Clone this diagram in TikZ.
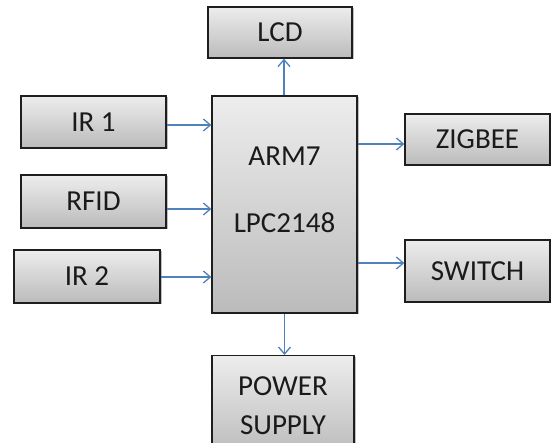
\documentclass[tikz,border=0pt]{standalone}
\usepackage{fontspec}
\setmainfont{Carlito}
\usepackage{tikz}
\usetikzlibrary{arrows.meta,shadows,calc}
\definecolor{blkTop}{HTML}{EDEDED}
\definecolor{blkBot}{HTML}{BBBBBB}
\definecolor{blkEdge}{HTML}{1E1E1E}
\definecolor{blkText}{HTML}{1A1A1A}
\definecolor{blkFlow}{HTML}{4F81BD}
\tikzset{
  blk/.style={draw=blkEdge,line width=1.3pt,top color=blkTop,bottom color=blkBot,
              text=blkText,align=center,inner sep=0pt,font=\fontsize{29}{38}\selectfont,
              drop shadow={shadow xshift=1.5pt,shadow yshift=-1.5pt,opacity=0.25,fill=black}},
  blkflow/.style={-{Straight Barb[length=7pt,width=12pt,line width=1.3pt]},draw=blkFlow,line width=1.4pt},
}
\begin{document}
\begin{tikzpicture}[x=1pt,y=-1pt]
  \useasboundingbox (0,0) rectangle (551,443);
  \clip (0,0) rectangle (551,443);
  \node[blk,minimum width=144pt,minimum height=51pt] (LCD) at (280,32.5) {LCD};
  \node[blk,minimum width=145pt,minimum height=52pt] (IR1) at (93.5,122) {IR 1};
  \node[blk,minimum width=145pt,minimum height=53pt] (RFID) at (93.5,201.5) {RFID};
  \node[blk,minimum width=146pt,minimum height=53pt] (IR2) at (87,276.5) {IR 2};
  \node[blk,minimum width=145pt,minimum height=217pt] (ARM) at (284.5,204.5) {};
  \node[font=\fontsize{29}{38}\selectfont,text=blkText] (ARMa) at (284.5,156) {ARM7};
  \node[font=\fontsize{29}{38}\selectfont,text=blkText] (ARMb) at (284.5,223) {LPC2148};
  \node[blk,minimum width=145pt,minimum height=51pt] (ZIG) at (477.5,139.5) {ZIGBEE};
  \node[blk,minimum width=145pt,minimum height=62pt] (SW) at (477.5,271) {SWITCH};
  \node[blk,minimum width=142pt,minimum height=100pt,anchor=north] (PWR) at (283,355) {};
  \node[font=\fontsize{29}{38}\selectfont,text=blkText] (PWRa) at (283,386) {POWER};
  \node[font=\fontsize{29}{38}\selectfont,text=blkText] (PWRb) at (283,425) {SUPPLY};

  \foreach \a/\s in {IR1/-3,RFID/-7.5,IR2/-0.5}{
    \draw[blkflow] ([yshift=\s pt]\a.east) -- ([yshift=\s pt]\a.east -| ARM.west);}
  \draw[blkflow] ([yshift=-4.5pt]ARM.north east |- ZIG.west) -- ([yshift=-4.5pt]ZIG.west);
  \draw[blkflow] ([yshift=8pt]ARM.north east |- SW.west) -- ([yshift=8pt]SW.west);
  \draw[blkflow] ([xshift=4pt]ARM.north -| LCD.south) -- ([xshift=4pt]LCD.south);
  \draw[blkflow] (ARM.south) -- (ARM.south |- PWR.north);
\end{tikzpicture}
\end{document}
